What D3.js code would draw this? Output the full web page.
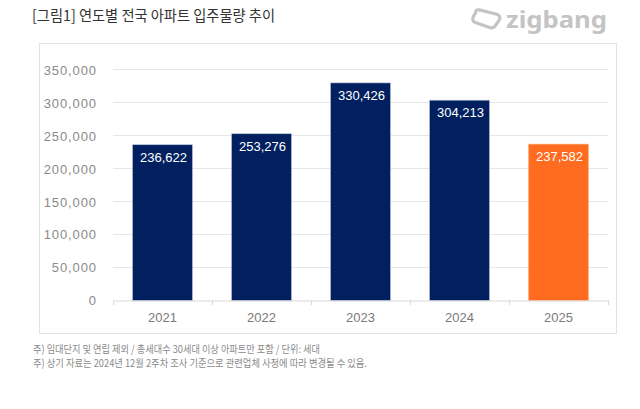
<!DOCTYPE html>
<html><head><meta charset="utf-8">
<script src="https://cdn.jsdelivr.net/npm/d3@7"></script>
<style>body{margin:0;background:#fff}svg{display:block}</style>
</head><body>
<script>
const years = ["2021","2022","2023","2024","2025"];
const values = [236622,253276,330426,304213,237582];
const barColors = ["#022060","#022060","#022060","#022060","#FF6B1F"];
const yTicks = [0,50000,100000,150000,200000,250000,300000,350000];
const title = "[그림1] 연도별 전국 아파트 입주물량 추이";
const notes = ["주) 임대단지 및 연립 제외 / 총세대수 30세대 이상 아파트만 포함 / 단위: 세대",
               "주) 상기 자료는 2024년 12월 2주차 조사 기준으로 관련업체 사정에 따라 변경될 수 있음."];

const W=640,H=409;
const svg=d3.select("body").append("svg").attr("width",W).attr("height",H);
svg.append("rect").attr("width",W).attr("height",H).attr("fill","#fff");

// title
svg.append("text").attr("x",32).attr("y",21).attr("font-family","Noto Sans CJK KR").attr("font-size",15)
  .attr("fill","#333").attr("textLength",243).attr("lengthAdjust","spacingAndGlyphs").text(title);

// logo
const logo=svg.append("g").attr("transform","translate(472,10)");
logo.append("path").attr("d","M3,4 Q2,1 6,1 L24,3 Q29,4 27,9 L24,15 Q22,18 18,17 L4,14 Q0,13 1,9 Z")
  .attr("fill","none").attr("stroke","#c4c4c4").attr("stroke-width",3.2).attr("stroke-linejoin","round")
  .attr("transform","rotate(8,15,9)");
svg.append("text").attr("x",506).attr("y",28).attr("font-family","Noto Sans").attr("font-weight","bold")
  .attr("font-size",24).attr("fill","#c4c4c4").attr("textLength",101).attr("lengthAdjust","spacingAndGlyphs").text("zigbang");

// frame
svg.append("rect").attr("x",39.5).attr("y",43.5).attr("width",577).attr("height",290)
  .attr("fill","#fff").attr("stroke","#e3e3e3");

const x=d3.scaleBand().domain(years).range([113,608]).paddingInner(0.394).paddingOuter(0.197);
const y=d3.scaleLinear().domain([0,350000]).range([300.7,70]);

// grid
svg.append("g").selectAll("line").data(yTicks.filter(d=>d>0)).join("line")
  .attr("x1",113).attr("x2",608).attr("y1",d=>Math.round(y(d))-0.5).attr("y2",d=>Math.round(y(d))-0.5)
  .attr("stroke","#e6e6e6");

// y axis labels
const yAxis=d3.axisLeft(y).tickValues(yTicks).tickFormat(d3.format(",")).tickSize(0).tickPadding(0);
const ya=svg.append("g").attr("transform","translate(97,0)").call(yAxis);
ya.select(".domain").remove();
ya.selectAll("text").attr("font-family","Liberation Sans").attr("font-size",13).attr("fill","#8a8a8a")
  .attr("letter-spacing",0.9);

// bars
svg.append("g").selectAll("rect").data(values).join("rect")
  .attr("x",(d,i)=>x(years[i])).attr("width",x.bandwidth())
  .attr("y",d=>y(d)).attr("height",d=>y(0)-y(d))
  .attr("fill",(d,i)=>barColors[i]).attr("stroke",(d,i)=>i===4?"#ffb38a":"#b9c3d8").attr("stroke-width",0.6);

// value labels
svg.append("g").selectAll("text").data(values).join("text")
  .attr("x",(d,i)=>x(years[i])+x.bandwidth()/2+1).attr("y",d=>y(d)+17)
  .attr("text-anchor","middle").attr("font-family","Liberation Sans").attr("font-size",13)
  .attr("fill","#fff").text(d=>d3.format(",")(d));

// x axis
const xAxis=d3.axisBottom(x).tickSize(0).tickPadding(10);
const xa=svg.append("g").attr("transform","translate(0,300.5)").call(xAxis);
xa.select(".domain").attr("stroke","#d9d9d9");
xa.selectAll("text").attr("font-family","Liberation Sans").attr("font-size",13).attr("fill","#7a7a7a").attr("dy","0.85em");
svg.append("g").selectAll("line").data(years.map((d,i)=>113+i*99).concat([608])).join("line")
  .attr("x1",d=>d+0.5).attr("x2",d=>d+0.5).attr("y1",300.5).attr("y2",305).attr("stroke","#d9d9d9");

// notes
notes.forEach((t,i)=>{
  svg.append("text").attr("x",33).attr("y",353+i*13.5).attr("font-family","Noto Sans CJK KR")
    .attr("font-size",10.5).attr("fill","#8a8a8a").attr("textLength",i===0?287:334)
    .attr("lengthAdjust","spacingAndGlyphs").text(t);
});
</script>
</body></html>
